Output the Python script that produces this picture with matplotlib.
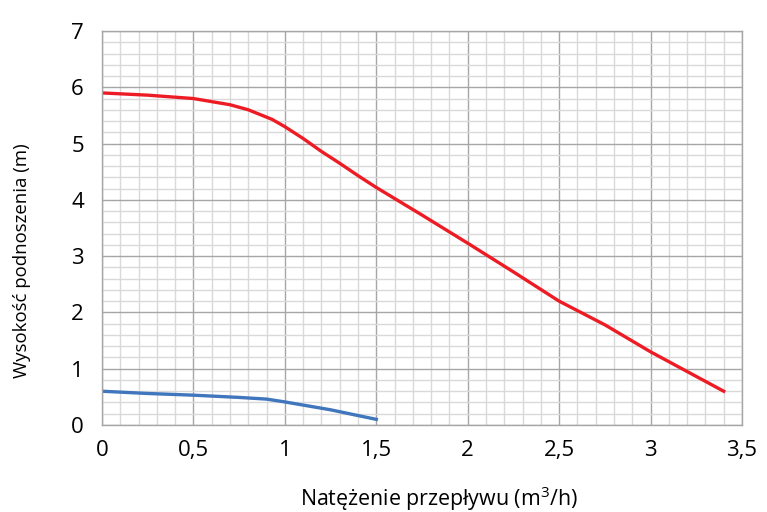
#!/usr/bin/env python3
import matplotlib
matplotlib.use('Agg')
import matplotlib.pyplot as plt
from matplotlib.ticker import MultipleLocator, FuncFormatter

#-------------------------------------------------------------------------#
# Data                                             #
#-------------------------------------------------------------------------#
x_red   = [0.0, 0.25, 0.5, 0.7, 0.8, 0.93, 1.0, 1.1, 1.2, 1.3, 1.4, 1.5,
           1.75, 2.0, 2.25, 2.5, 2.75, 3.0, 3.2, 3.4]
y_red   = [5.9, 5.86, 5.8, 5.69, 5.6, 5.43, 5.3, 5.09, 4.86, 4.65, 4.43,
           4.22, 3.73, 3.23, 2.72, 2.2, 1.78, 1.3, 0.95, 0.6]
x_blue  = [0.0, 0.25, 0.5, 0.75, 0.9, 1.0, 1.25, 1.5]
y_blue  = [0.6, 0.56, 0.53, 0.49, 0.46, 0.41, 0.27, 0.1]

xlabel  = 'Natężenie przepływu (m$^3$/h)'
ylabel  = 'Wysokość podnoszenia (m)'

plt.rcParams['font.family'] = ['Open Sans', 'DejaVu Sans']
plt.rcParams['mathtext.fontset'] = 'custom'
plt.rcParams['mathtext.rm'] = 'Open Sans'

fig = plt.figure(figsize=(7.67, 5.12), dpi=100)
ax  = fig.add_axes([102/767, 1-425/512, 640/767, 394/512])

ax.plot(x_red, y_red, color='#ED1C24', lw=2.4, solid_joinstyle='round')
ax.plot(x_blue, y_blue, color='#3F76BC', lw=2.4, solid_joinstyle='round')

ax.set_xlim(0, 3.5)
ax.set_ylim(0, 7)
ax.xaxis.set_major_locator(MultipleLocator(0.5))
ax.xaxis.set_minor_locator(MultipleLocator(0.1))
ax.yaxis.set_major_locator(MultipleLocator(1))
ax.yaxis.set_minor_locator(MultipleLocator(0.2))
ax.xaxis.set_major_formatter(FuncFormatter(lambda v, p: ('%g' % v).replace('.', ',')))
ax.yaxis.set_major_formatter(FuncFormatter(lambda v, p: '%g' % v))

ax.grid(which='minor', color='#d9d9d9', lw=1.0)
ax.grid(which='major', color='#a6a6a6', lw=1.0)
ax.set_axisbelow(True)
for s in ax.spines.values():
    s.set_color('#a6a6a6')
    s.set_linewidth(1.0)

ax.tick_params(which='both', length=0)
ax.tick_params(axis='x', labelsize=16, pad=11)
ax.tick_params(axis='y', labelsize=16, pad=13)

# axis titles placed as in the reference (both a bit off-centre)
fig.text(439/767, 1-499/512, xlabel, fontsize=15.4, ha='center', va='center')
fig.text(22/767, 1-261/512, ylabel, fontsize=13.4, rotation=90,
         ha='center', va='center')

fig.savefig('out.png', dpi=100)
